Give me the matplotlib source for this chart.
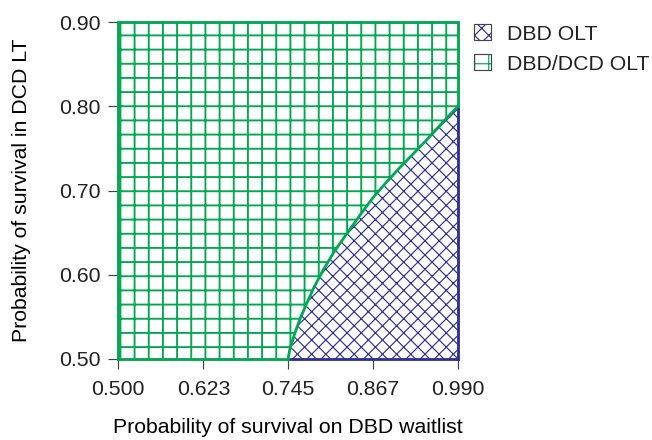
import matplotlib
matplotlib.use("Agg")
import matplotlib.pyplot as plt
from matplotlib.patches import Patch
from matplotlib.legend_handler import HandlerTuple

# probability of survival on DBD waitlist (x) vs in DCD LT (y)
x_ticks = [0.500, 0.623, 0.745, 0.867, 0.990]
y_ticks = [0.50, 0.60, 0.70, 0.80, 0.90]
# threshold curve separating the two regions
curve_x = [0.745, 0.748, 0.755, 0.763, 0.772, 0.783, 0.796, 0.812, 0.830, 0.849,
           0.868, 0.887, 0.906, 0.926, 0.947, 0.968, 0.990]
curve_y = [0.500, 0.513, 0.531, 0.549, 0.566, 0.586, 0.606, 0.628, 0.649, 0.671,
           0.692, 0.710, 0.727, 0.744, 0.762, 0.781, 0.800]
labels = ["DBD OLT", "DBD/DCD OLT"]

green = "#00a651"
blue = "#2e3192"

plt.rcParams["font.family"] = ["Liberation Sans", "DejaVu Sans"]
plt.rcParams["font.size"] = 18
plt.rcParams["text.color"] = "#222222"

dpi = 85
fig = plt.figure(figsize=(652 / dpi, 440 / dpi), dpi=dpi)
ax = fig.add_axes([118 / 652, 81 / 440, 340 / 652, 337 / 440])

x0, x1 = x_ticks[0], x_ticks[-1]
y0, y1 = y_ticks[0], y_ticks[-1]

# blue region: below/right of the curve
bx = curve_x + [x1]
by = curve_y + [y0]
with plt.rc_context({"hatch.linewidth": 1.0}):
    ax.fill(bx, by, facecolor="white", edgecolor=blue, hatch="xx", linewidth=0)

# green region: the rest
gx = [x0] + curve_x + [x1, x0]
gy = [y0] + curve_y + [y1, y1]
with plt.rc_context({"hatch.linewidth": 1.6}):
    ax.fill(gx, gy, facecolor="white", edgecolor=green, hatch="+", linewidth=0)

lw = 2.4
kw = dict(lw=lw, clip_on=False, solid_capstyle="projecting", solid_joinstyle="miter")
ax.plot([x1, x1], [y0, curve_y[-1]], color=blue, **kw)
ax.plot([curve_x[0], x1], [y0, y0], color=blue, **kw)
ax.plot([x0, curve_x[0]], [y0, y0], color=green, **kw)
ax.plot(curve_x, curve_y, color=green, lw=lw, clip_on=False, solid_capstyle="round")
ax.plot([x0, x0, x1, x1], [y0, y1, y1, curve_y[-1]], color=green, **kw)

ax.set_xlim(x0, x1)
ax.set_ylim(y0, y1)
for s in ax.spines.values():
    s.set_visible(False)
ax.set_xticks(x_ticks)
ax.set_xticklabels([f"{v:.3f}" for v in x_ticks])
ax.set_yticks(y_ticks)
ax.set_yticklabels([f"{v:.2f}" for v in y_ticks])
ax.tick_params(length=8.5, width=1, color="#444444", labelcolor="#222222")
ax.tick_params(axis="x", pad=9)
ax.tick_params(axis="y", pad=6)

ax.set_xlabel("Probability of survival on DBD waitlist", labelpad=16)
ax.set_ylabel("Probability of survival in DCD LT", labelpad=24)

h_blue = (Patch(facecolor="white", edgecolor=blue, hatch="xx", linewidth=0),
          Patch(fill=False, edgecolor="#444444", linewidth=1))
h_green = (Patch(facecolor="white", edgecolor=green, hatch="+", linewidth=0),
           Patch(fill=False, edgecolor="#444444", linewidth=1))
fig.legend([h_blue, h_green], labels, handler_map={tuple: HandlerTuple(ndivide=1, pad=0)},
           loc="upper left", bbox_to_anchor=(457 / 652, 1 - 7 / 440), frameon=False,
           handlelength=0.8, handleheight=0.8, handletextpad=0.75, labelspacing=0.5,
           borderpad=0.3)

fig.savefig("out.png", dpi=dpi)
